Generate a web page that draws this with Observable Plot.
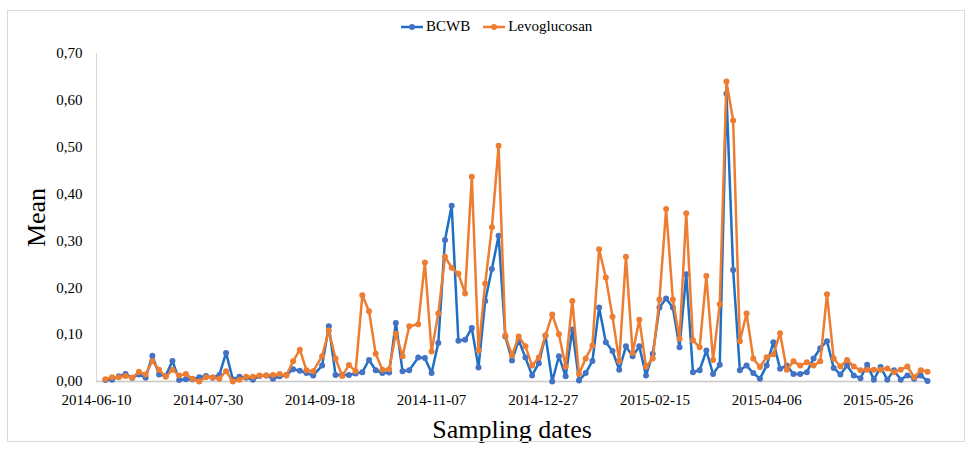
<!DOCTYPE html>
<html>
<head>
<meta charset="utf-8">
<script src="https://cdn.jsdelivr.net/npm/d3@7"></script>
<script src="https://cdn.jsdelivr.net/npm/@observablehq/plot@0.6"></script>
<style>
  body { margin: 0; background: #fff; }
  #wrap { position: relative; width: 973px; height: 450px; font-family: "Liberation Serif", "Times New Roman", serif; }
  #frame { position: absolute; left: 7px; top: 10px; width: 958px; height: 432px; border: 1px solid #d9d9d9; box-sizing: border-box; pointer-events: none; }
  #legend { position: absolute; top: 18px; left: 401px; font-size: 15px; color: #000; display: flex; align-items: center; white-space: nowrap; }
  #legend .item { display: flex; align-items: center; margin-right: 13px; }
  #legend svg { margin-right: 3px; }
  #chart svg [aria-label="y-axis label"] text, #chart svg [aria-label="x-axis label"] text { font-size: 26px; }
</style>
</head>
<body>
<div id="wrap">
  <div id="chart"></div>
  <div id="frame"></div>
  <div id="legend">
    <span class="item"><svg width="22" height="10"><line x1="0" y1="5" x2="22" y2="5" stroke="#1f6fc5" stroke-width="2.5"/><circle cx="11" cy="5" r="3" fill="#4472c4"/></svg><span>BCWB</span></span>
    <span class="item"><svg width="22" height="10"><line x1="0" y1="5" x2="22" y2="5" stroke="#ed7d31" stroke-width="2.5"/><circle cx="11" cy="5" r="3" fill="#ed7d31"/></svg><span>Levoglucosan</span></span>
  </div>
</div>
<script>
// Sampling dates (every ~3 days)
const dates = [
  "2014-06-14","2014-06-17","2014-06-20","2014-06-23","2014-06-26","2014-06-29","2014-07-02","2014-07-05","2014-07-08","2014-07-11",
  "2014-07-14","2014-07-17","2014-07-20","2014-07-23","2014-07-26","2014-07-29","2014-08-01","2014-08-04","2014-08-07","2014-08-10",
  "2014-08-13","2014-08-16","2014-08-19","2014-08-22","2014-08-25","2014-08-28","2014-08-31","2014-09-03","2014-09-06","2014-09-09",
  "2014-09-12","2014-09-15","2014-09-19","2014-09-22","2014-09-25","2014-09-28","2014-10-01","2014-10-04","2014-10-07","2014-10-10",
  "2014-10-13","2014-10-16","2014-10-19","2014-10-22","2014-10-25","2014-10-28","2014-11-01","2014-11-04","2014-11-07","2014-11-10",
  "2014-11-13","2014-11-16","2014-11-19","2014-11-22","2014-11-25","2014-11-28","2014-12-01","2014-12-04","2014-12-07","2014-12-10",
  "2014-12-13","2014-12-16","2014-12-19","2014-12-22","2014-12-25","2014-12-28","2014-12-31","2015-01-03","2015-01-06","2015-01-09",
  "2015-01-12","2015-01-15","2015-01-18","2015-01-21","2015-01-24","2015-01-27","2015-01-30","2015-02-02","2015-02-05","2015-02-08",
  "2015-02-11","2015-02-14","2015-02-17","2015-02-20","2015-02-23","2015-02-26","2015-03-01","2015-03-04","2015-03-07","2015-03-10",
  "2015-03-13","2015-03-16","2015-03-19","2015-03-22","2015-03-25","2015-03-28","2015-03-31","2015-04-03","2015-04-06","2015-04-09",
  "2015-04-12","2015-04-15","2015-04-18","2015-04-21","2015-04-24","2015-04-27","2015-04-30","2015-05-03","2015-05-06","2015-05-09",
  "2015-05-12","2015-05-15","2015-05-18","2015-05-21","2015-05-24","2015-05-27","2015-05-30","2015-06-02","2015-06-05","2015-06-08",
  "2015-06-11","2015-06-14","2015-06-17"
];

const bcwb = [
  0.003,0.004,0.011,0.016,0.008,0.015,0.008,0.055,0.015,0.012,
  0.044,0.003,0.005,0.005,0.009,0.012,0.008,0.014,0.061,0.005,
  0.010,0.008,0.004,0.012,0.013,0.006,0.011,0.014,0.026,0.023,
  0.018,0.013,0.034,0.118,0.014,0.014,0.014,0.017,0.020,0.046,
  0.024,0.018,0.019,0.125,0.022,0.024,0.051,0.050,0.018,0.082,
  0.302,0.375,0.087,0.089,0.114,0.030,0.172,0.240,0.311,0.096,
  0.045,0.088,0.051,0.013,0.039,0.098,0.000,0.054,0.011,0.111,
  0.002,0.018,0.044,0.158,0.084,0.065,0.025,0.075,0.054,0.075,
  0.013,0.059,0.158,0.177,0.158,0.073,0.229,0.020,0.024,0.066,
  0.016,0.036,0.614,0.238,0.024,0.034,0.018,0.006,0.034,0.084,
  0.027,0.034,0.016,0.016,0.020,0.049,0.071,0.086,0.029,0.015,
  0.034,0.013,0.007,0.036,0.004,0.031,0.004,0.024,0.004,0.013,
  0.006,0.013,0.001
];

const levoglucosan = [
  0.005,0.009,0.009,0.012,0.008,0.021,0.015,0.044,0.025,0.010,
  0.025,0.013,0.016,0.006,0.000,0.009,0.009,0.006,0.022,0.000,
  0.004,0.010,0.010,0.013,0.013,0.014,0.016,0.013,0.043,0.068,
  0.024,0.022,0.054,0.109,0.049,0.012,0.035,0.022,0.184,0.150,
  0.059,0.025,0.026,0.102,0.054,0.118,0.122,0.254,0.064,0.145,
  0.266,0.243,0.230,0.188,0.437,0.066,0.209,0.329,0.503,0.098,
  0.056,0.096,0.075,0.034,0.051,0.098,0.143,0.101,0.032,0.172,
  0.016,0.049,0.077,0.282,0.222,0.138,0.044,0.266,0.061,0.132,
  0.032,0.049,0.175,0.368,0.175,0.091,0.359,0.088,0.073,0.225,
  0.046,0.165,0.640,0.557,0.086,0.145,0.049,0.031,0.052,0.058,
  0.103,0.025,0.043,0.034,0.041,0.034,0.043,0.186,0.049,0.032,
  0.046,0.032,0.024,0.025,0.025,0.025,0.028,0.020,0.025,0.032,
  0.009,0.024,0.021
];

const xTickLabels = ["2014-06-10","2014-07-30","2014-09-18","2014-11-07","2014-12-27","2015-02-15","2015-04-06","2015-05-26"];
const yTicks = [0, 0.1, 0.2, 0.3, 0.4, 0.5, 0.6, 0.7];
const xDomain = ["2014-06-10", "2015-06-17"];

const parse = d3.utcParse("%Y-%m-%d");
const rowsB = dates.map((d, i) => ({date: parse(d), value: bcwb[i]}));
const rowsL = dates.map((d, i) => ({date: parse(d), value: levoglucosan[i]}));

const blueLine = "#1f6fc5", blueDot = "#4472c4", orange = "#ed7d31";

const chart = Plot.plot({
  width: 973,
  height: 450,
  marginLeft: 96,
  marginRight: 46,
  marginTop: 53,
  marginBottom: 69,
  style: {fontFamily: "Liberation Serif, Times New Roman, serif", fontSize: "15px", color: "#000", background: "transparent"},
  x: {type: "utc", domain: xDomain.map(parse)},
  y: {domain: [0, 0.7]},
  marks: [
    Plot.ruleX([parse(xDomain[0])], {stroke: "#d9d9d9", strokeWidth: 1}),
    Plot.ruleY([0], {stroke: "#c8c8c8", strokeWidth: 1.5}),
    Plot.axisX({
      ticks: xTickLabels.map(parse),
      tickFormat: d3.utcFormat("%Y-%m-%d"),
      tickSize: 0, tickPadding: 13,
      label: "Sampling dates", labelAnchor: "center", labelArrow: "none", labelOffset: 56
    }),
    Plot.axisY({
      ticks: yTicks,
      tickFormat: d => d.toFixed(2).replace(".", ","),
      tickSize: 0, tickPadding: 14,
      label: "Mean", labelAnchor: "center", labelArrow: "none", labelOffset: 70
    }),
    Plot.line(rowsB, {x: "date", y: "value", stroke: blueLine, strokeWidth: 2.5, curve: "linear"}),
    Plot.dot(rowsB, {x: "date", y: "value", r: 3, fill: blueDot, stroke: "none"}),
    Plot.line(rowsL, {x: "date", y: "value", stroke: orange, strokeWidth: 2.5, curve: "linear"}),
    Plot.dot(rowsL, {x: "date", y: "value", r: 3, fill: orange, stroke: "none"})
  ]
});
document.getElementById("chart").appendChild(chart);
</script>
</body>
</html>
